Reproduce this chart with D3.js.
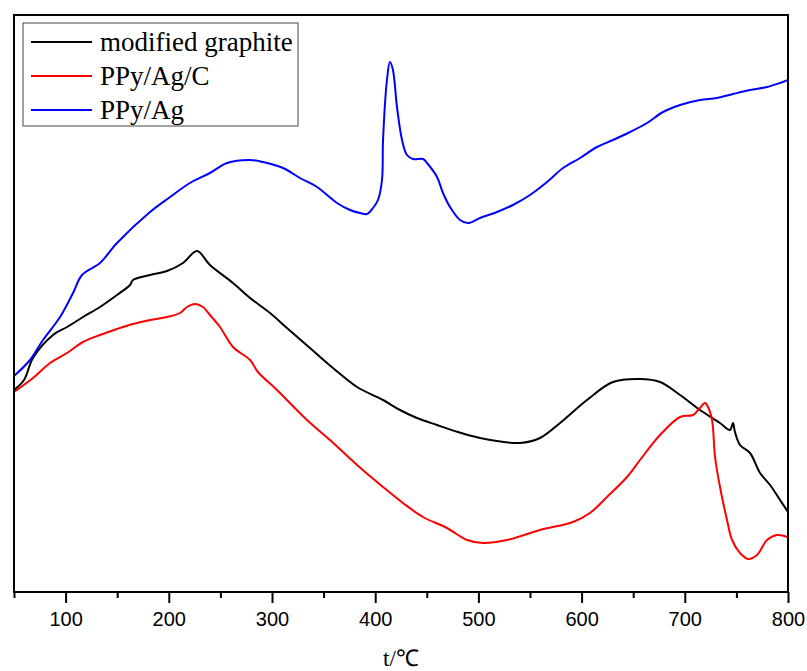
<!DOCTYPE html>
<html>
<head>
<meta charset="utf-8">
<script src="https://cdn.jsdelivr.net/npm/d3@7"></script>
<style>
  body { margin: 0; background: #fff; }
  svg { display: block; }
</style>
</head>
<body>
<svg width="807" height="671"></svg>
<script>
// temperature (°C) and signal (arbitrary units)
const graphiteT = [50, 59.7, 68.4, 87.8, 101.4, 116.9, 133.3, 149.8, 162.4, 165.3, 181.8, 198.3, 213.8, 227.3, 239.9, 262.2, 278.7, 298.1, 314.5, 336.8, 359.1, 382.4, 407.6, 424, 440.5, 459.9, 480.2, 501.6, 540.3, 559.7, 579.1, 605.2, 630.4, 656.6, 676, 695.4, 714.7, 734.1, 743.8, 746.7, 748.6, 753.5, 763.2, 772.9, 782.6, 792.3, 800];
const graphiteV = [202, 212, 234, 257, 265, 275, 285, 297, 307, 312, 317, 321, 329, 341, 327, 309, 294, 279, 264, 244, 224, 205, 192, 182, 174, 167, 160, 154, 149, 154, 169, 192, 210, 213, 210, 197, 182, 169, 162, 169, 160, 147, 139, 119, 107, 92, 80];

const agcT = [50, 68.4, 84.9, 101.4, 116.9, 133.3, 149.8, 165.3, 181.8, 198.3, 210.9, 217.6, 225.4, 233.1, 239.9, 249.6, 262.2, 278.7, 286.4, 304.8, 333.9, 356.2, 382.4, 407.6, 426.9, 446.3, 469.6, 489, 504.5, 527.7, 559.7, 591.7, 608.1, 624.6, 644, 656.6, 676, 695.4, 708, 714.7, 719.6, 722.5, 726.4, 729.3, 734.1, 740.9, 745.8, 753.5, 761.3, 770, 779.7, 789.4, 800];
const agcV = [200, 214, 229, 239, 250, 257, 263, 268, 272, 275, 279, 285, 288, 285, 277, 265, 245, 232, 220, 202, 172, 152, 127, 105, 89, 75, 64, 52, 49, 52, 62, 70, 79, 95, 115, 132, 157, 175, 177, 184, 189, 185, 172, 135, 105, 72, 52, 39, 33, 37, 52, 57, 55];

const agT = [50, 65.5, 78.1, 94.6, 107.2, 115.9, 133.3, 149.8, 181.8, 201.2, 220.5, 239.9, 256.4, 278.7, 291.3, 310.7, 327.1, 343.6, 363, 375.6, 385.3, 392.1, 397.9, 402.7, 406.6, 407.6, 411.4, 414.3, 417.2, 421.1, 426, 430.8, 436.6, 446.3, 450.2, 459.9, 465.7, 472.5, 482.2, 489.9, 501.6, 518, 533.5, 550, 566.5, 582, 598.5, 614.9, 630.4, 646.9, 663.4, 678.9, 695.4, 714.7, 731.2, 746.7, 763.2, 779.7, 792.3, 800];
const agV = [216, 232, 252, 275, 299, 317, 329, 349, 380, 395, 409, 419, 429, 432, 430, 424, 414, 405, 389, 382, 379, 378, 384, 392, 412, 452, 512, 530, 522, 485, 452, 437, 433, 433, 429, 415, 399, 385, 372, 369, 374, 380, 387, 397, 410, 424, 434, 445, 452, 460, 469, 480, 487, 492, 494, 498, 502, 505, 509, 512];

const seriesNames = ["modified graphite", "PPy/Ag/C", "PPy/Ag"];
const seriesColors = ["#000000", "#ff0000", "#0000ff"];
const majorTicks = [100, 200, 300, 400, 500, 600, 700, 800];
const minorTicks = [50, 150, 250, 350, 450, 550, 650, 750];

const svg = d3.select("svg");
const plotL = 14, plotR = 788, plotT = 15, plotB = 592;

let xScale = d3.scaleLinear().domain([50, 800]).range([plotL, plotR]);
let yScale = d3.scaleLinear().domain([0, 577]).range([plotB, plotT]);

// clip lines to the frame
svg.append("defs").append("clipPath").attr("id", "plotClip")
  .append("rect")
  .attr("x", plotL).attr("y", plotT)
  .attr("width", plotR - plotL).attr("height", plotB - plotT);

// plot lines
const allSeries = [
  d3.zip(graphiteT, graphiteV),
  d3.zip(agcT, agcV),
  d3.zip(agT, agV)
];
let line = d3.line()
  .x(d => xScale(d[0]))
  .y(d => yScale(d[1]))
  .curve(d3.curveCatmullRom.alpha(0.5));

allSeries.forEach((s, i) => {
  svg.append("path")
    .attr("clip-path", "url(#plotClip)")
    .attr("d", line(s))
    .attr("fill", "none")
    .attr("stroke", seriesColors[i])
    .attr("stroke-width", 2)
    .attr("stroke-linejoin", "round");
});

// frame
svg.append("rect")
  .attr("x", plotL).attr("y", plotT)
  .attr("width", plotR - plotL).attr("height", plotB - plotT)
  .attr("fill", "none")
  .attr("stroke", "#000")
  .attr("stroke-width", 2);

// x axis, major and minor ticks
let xAxis = d3.axisBottom(xScale)
  .tickValues(majorTicks)
  .tickSizeInner(11).tickSizeOuter(0).tickPadding(9);
let xAxisG = svg.append("g")
  .attr("id", "xAxisG")
  .attr("transform", `translate(0, ${plotB})`)
  .call(xAxis);
xAxisG.select(".domain").remove();
xAxisG.selectAll("line").attr("stroke", "#000").attr("stroke-width", 2);
xAxisG.selectAll("text")
  .style("font-family", "Arial, 'Liberation Sans', sans-serif")
  .style("font-size", "20px")
  .attr("fill", "#000");

let minorAxis = d3.axisBottom(xScale)
  .tickValues(minorTicks)
  .tickSizeInner(6).tickSizeOuter(0)
  .tickFormat("");
let minorG = svg.append("g")
  .attr("transform", `translate(0, ${plotB})`)
  .call(minorAxis);
minorG.select(".domain").remove();
minorG.selectAll("line").attr("stroke", "#000").attr("stroke-width", 2);

// axis title
svg.append("text")
  .attr("x", (plotL + plotR) / 2)
  .attr("y", 666)
  .attr("text-anchor", "middle")
  .style("font-family", "'Times New Roman', 'Liberation Serif', serif")
  .style("font-size", "23px")
  .text("t/℃");

// legend
let legend = svg.append("g").attr("transform", "translate(23, 23)");
legend.append("rect")
  .attr("x", 0).attr("y", 0)
  .attr("width", 275).attr("height", 103)
  .attr("fill", "#fff")
  .attr("stroke", "#444")
  .attr("stroke-width", 1);

seriesNames.forEach((name, i) => {
  let yy = 19 + i * 34;
  legend.append("line")
    .attr("x1", 8).attr("x2", 69)
    .attr("y1", yy).attr("y2", yy)
    .attr("stroke", seriesColors[i])
    .attr("stroke-width", 1.8);
  legend.append("text")
    .attr("x", 77)
    .attr("y", yy + 9)
    .style("font-family", "'Times New Roman', 'Liberation Serif', serif")
    .style("font-size", "27px")
    .text(name);
});
</script>
</body>
</html>
